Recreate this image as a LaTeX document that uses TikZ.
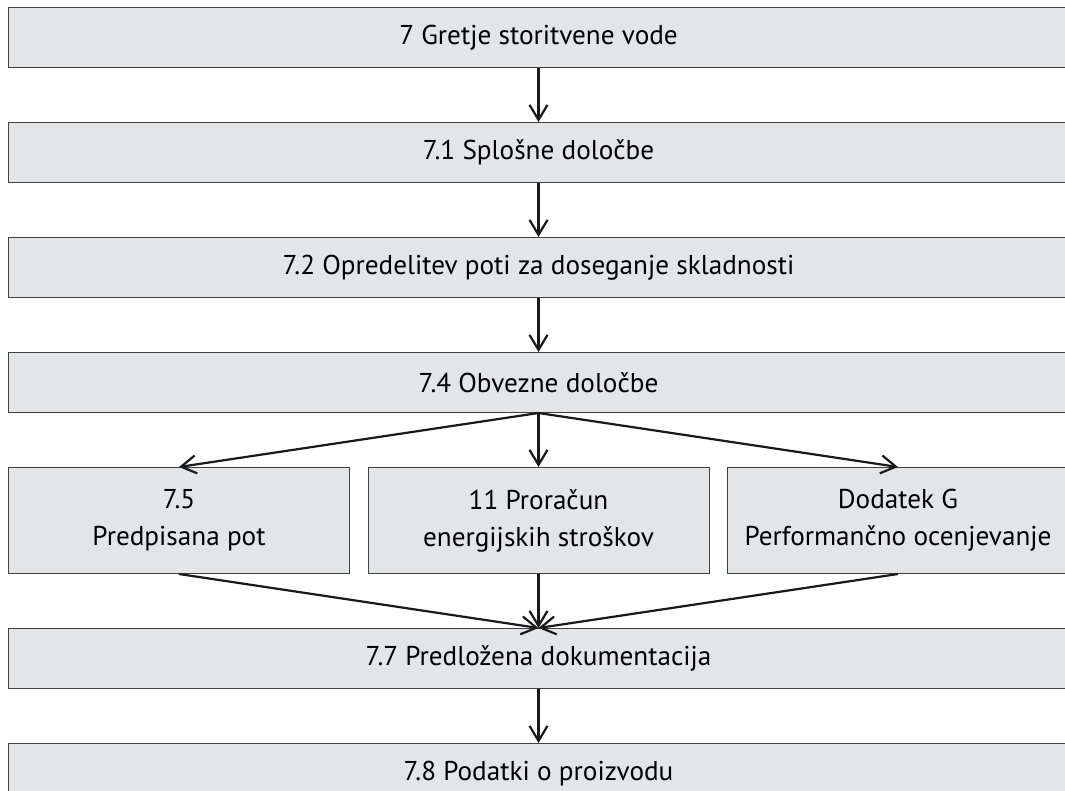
\documentclass[tikz,border=0pt]{standalone}
\usepackage{fontspec}
\setmainfont{PT Sans}
\usepackage{tikz}
\usetikzlibrary{arrows.meta, positioning}
\definecolor{boxgray}{HTML}{E4E5E6}
\tikzset{
    stepbox/.style={rectangle, draw=black!75, line width=0.5pt, fill=boxgray, minimum width=530pt, minimum height=30pt, inner sep=0pt, text centered, font={\fontsize{13.6}{18.5}\selectfont}},
    subbox/.style={stepbox, minimum width=170.5pt, minimum height=53pt, align=center},
    arrow/.style={-{Straight Barb[length=7.5pt, width=9pt, line width=1.1pt]}, line width=1.1pt, black!90},
}

\begin{document}
\begin{tikzpicture}
\clip (0,0) rectangle (532.5pt,-395.5pt);
\node[stepbox, anchor=north west] (g7) at (4pt,-3.5pt) {7 Gretje storitvene vode};
\node[stepbox, below=27pt of g7] (s71) {7.1 Splošne določbe};
\node[stepbox, below=27pt of s71] (s72) {7.2 Opredelitev poti za doseganje skladnosti};
\node[stepbox, below=27pt of s72] (s74) {7.4 Obvezne določbe};
\node[subbox, below right=27pt and 0pt of s74.south west] (s75) {7.5\\Predpisana pot};
\node[subbox, below=27pt of s74] (p11) {11 Proračun\\energijskih stroškov};
\node[subbox, below left=27pt and 0pt of s74.south east] (dg) {Dodatek G\\Performančno ocenjevanje};
\node[stepbox, below=27pt of p11] (s77) {7.7 Predložena dokumentacija};
\node[stepbox, below=27pt of s77] (s78) {7.8 Podatki o proizvodu};

\draw[arrow] (g7.south) -- (s71.north);
\draw[arrow] (s71.south) -- (s72.north);
\draw[arrow] (s72.south) -- (s74.north);
\draw[arrow] (s74.south) -- (s75.north);
\draw[arrow] (s74.south) -- (p11.north);
\draw[arrow] (s74.south) -- (dg.north);
\draw[arrow] (s75.south) -- (s77.north);
\draw[arrow] (p11.south) -- (s77.north);
\draw[arrow] (dg.south) -- (s77.north);
\draw[arrow] (s77.south) -- (s78.north);
\end{tikzpicture}
\end{document}
